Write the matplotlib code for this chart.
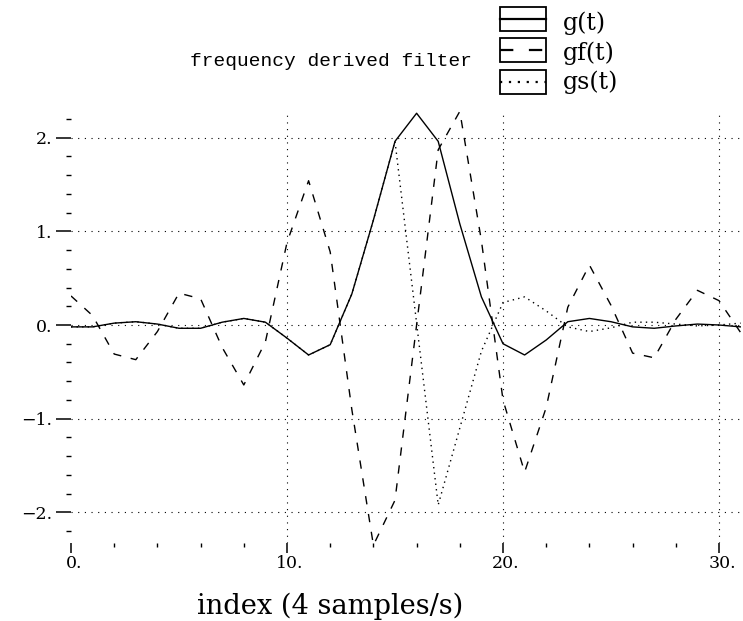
import matplotlib
matplotlib.use("Agg")
import matplotlib.pyplot as plt
from matplotlib.ticker import MultipleLocator, FixedLocator
from matplotlib.patches import Rectangle
from matplotlib.lines import Line2D
from matplotlib.transforms import ScaledTranslation

# sample index (4 samples/s)
index = list(range(32))

# time-domain filter g(t)
g = [-0.02, -0.02, 0.02, 0.035, 0.01, -0.035, -0.035, 0.03, 0.07, 0.03,
     -0.14, -0.32, -0.21, 0.33, 1.12, 1.96, 2.26, 1.96, 1.08, 0.30,
     -0.20, -0.32, -0.16, 0.035, 0.07, 0.035, -0.02, -0.035, -0.01, 0.01,
     0.0, -0.02]

# frequency derived filter gf(t)
gf = [0.31, 0.10, -0.31, -0.37, -0.07, 0.34, 0.28, -0.24, -0.64, -0.18,
      0.88, 1.54, 0.78, -0.90, -2.35, -1.87, 0.0, 1.87, 2.28, 0.90,
      -0.80, -1.57, -0.88, 0.19, 0.64, 0.21, -0.30, -0.35, 0.06, 0.37,
      0.26, -0.08]

# sign-flipped filter gs(t)
gs = [-0.02, -0.02, 0.02, 0.035, 0.01, -0.035, -0.035, 0.03, 0.07, 0.03,
      -0.14, -0.32, -0.21, 0.33, 1.12, 1.96, 0.02, -1.92, -1.10, -0.28,
      0.24, 0.30, 0.15, -0.02, -0.07, -0.03, 0.03, 0.03, 0.01, -0.01,
      0.0, 0.02]

series_labels = ["g(t)", "gf(t)", "gs(t)"]
x_major = [0, 10, 20, 30]
x_major_labels = ["0.", "10.", "20.", "30."]
y_major = [-2, -1, 0, 1, 2]
y_major_labels = ["\u22122.", "\u22121.", "0.", "1.", "2."]

W, H = 743, 621
fig = plt.figure(figsize=(W / 100, H / 100), dpi=100)


def fx(px):
    return px / W


def fy(py):
    return 1 - py / H


left, right, top, bottom = 71, 740.6, 110, 543
ax = fig.add_axes([fx(left), fy(bottom), (right - left) / W, (bottom - top) / H])
ax.set_xlim(0, 31)
ax.set_ylim(-2.3266, 2.2946)

for s in ax.spines.values():
    s.set_visible(False)

styles = [dict(linestyle="-"),
          dict(linestyle=(0, (6, 7))),
          dict(linestyle=(0, (1, 3)))]

for ys, st in zip([g, gf, gs], styles):
    ax.plot(index, ys, color="black", lw=1.0, **st, zorder=3)

# ticks
ax.xaxis.set_major_locator(FixedLocator(x_major))
ax.set_xticklabels(x_major_labels)
ax.xaxis.set_minor_locator(MultipleLocator(2))
ax.yaxis.set_major_locator(FixedLocator(y_major))
ax.set_yticklabels(y_major_labels)
ax.yaxis.set_minor_locator(MultipleLocator(0.2))

ax.tick_params(axis="x", which="major", direction="out", length=7.5, width=1.1,
               pad=1.5, labelsize=12.5)
ax.tick_params(axis="x", which="minor", direction="out", length=3, width=1.0)
ax.tick_params(axis="y", which="major", direction="out", length=10.8, width=1.1,
               pad=2.9, labelsize=12.5)
ax.tick_params(axis="y", which="minor", direction="out", length=3.5, width=1.0)

for lbl in ax.get_xticklabels() + ax.get_yticklabels():
    lbl.set_fontfamily("DejaVu Serif")
for lbl in ax.get_xticklabels():
    lbl.set_transform(lbl.get_transform() + ScaledTranslation(0.03, 0, fig.dpi_scale_trans))

# dotted grid
ax.grid(True, which="major", color="black", lw=0.8, linestyle=(0, (1, 5)), zorder=1)
ax.get_xgridlines()[0].set_visible(False)

# title and axis label
fig.text(fx(331), fy(62), "frequency derived filter", family="Liberation Mono",
         fontsize=14, ha="center", va="center")
fig.text(fx(330), fy(606), "index (4 samples/s)", family="DejaVu Serif",
         fontsize=19.6, ha="center", va="center")

# legend: one framed sample per series
box_tops = [7, 38, 70]
box_h = 24
box_l, box_r = 500, 546
label_y = [23, 53, 82]
for top_px, ly, st, lab in zip(box_tops, label_y, styles, series_labels):
    fig.add_artist(Rectangle((fx(box_l), fy(top_px + box_h)),
                             (box_r - box_l) / W, box_h / H,
                             transform=fig.transFigure, fill=False,
                             edgecolor="black", lw=1.3))
    yc = fy(top_px + box_h / 2)
    fig.add_artist(Line2D([fx(box_l), fx(box_r)], [yc, yc], transform=fig.transFigure,
                          color="black", lw=1.6, **st))
    fig.text(fx(563), fy(ly), lab, family="DejaVu Serif", fontsize=17,
             ha="left", va="center")

fig.savefig("out.png", dpi=100)
